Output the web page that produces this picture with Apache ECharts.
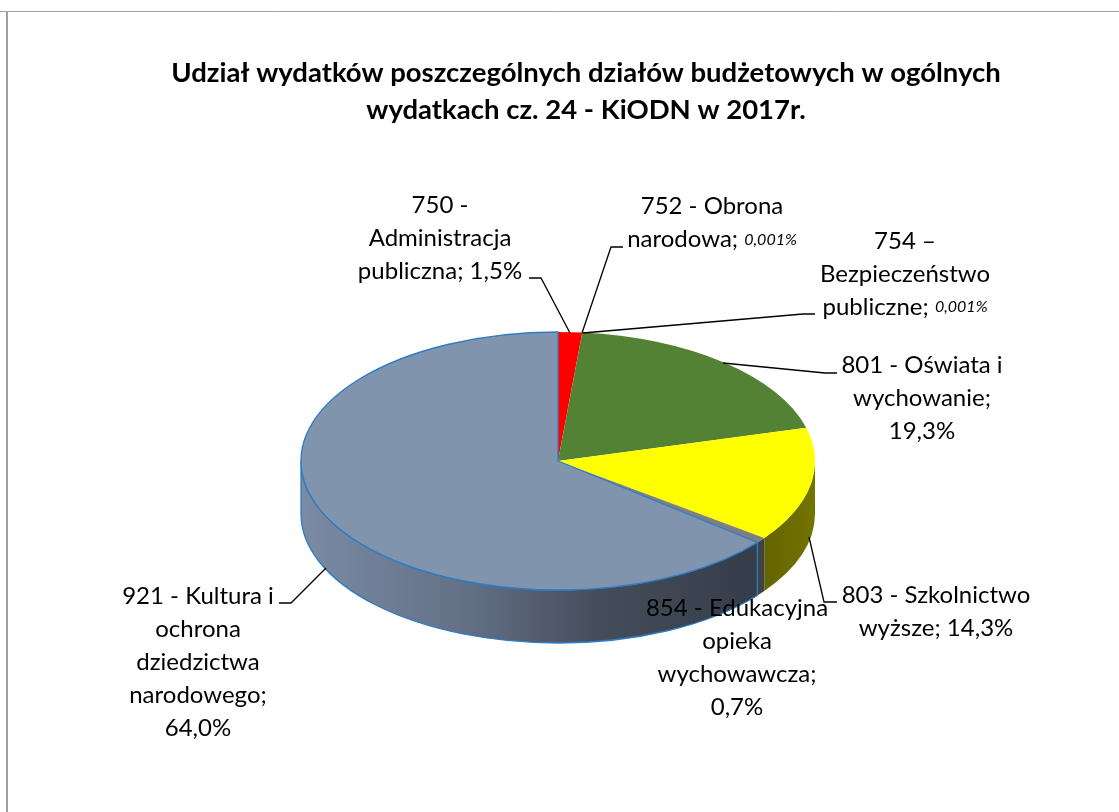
<!DOCTYPE html>
<html lang="pl">
<head>
    <meta charset="UTF-8">
    <title>Udział wydatków</title>
    <style>
        html, body { margin: 0; padding: 0; background: #fff; }
    </style>
    <script src="https://cdn.jsdelivr.net/npm/echarts@6/dist/echarts.min.js"></script>
</head>
<body>
<div id="pie" style="width: 1119px;height: 812px;"></div>
<script>
    // dane (udział w %)
    var categories = ['750', '752', '754', '801', '803', '854', '921'];
    var values = [1.5, 0.001, 0.001, 19.3, 14.3, 0.7, 64.0];
    var labelTexts = [
        '{n|750 -}\n{n|Administracja}\n{n|publiczna; 1,5%}',
        '{n|752 - Obrona}\n{n|narodowa; }{i|0,001%}',
        '{n|754 –}\n{n|Bezpieczeństwo}\n{n|publiczne; }{i|0,001%}',
        '{n|801 - Oświata i}\n{n|wychowanie;}\n{n|19,3%}',
        '{n|803 - Szkolnictwo}\n{n|wyższe; 14,3%}',
        '{n|854 - Edukacyjna}\n{n|opieka}\n{n|wychowawcza;}\n{n|0,7%}',
        '{n|921 - Kultura i}\n{n|ochrona}\n{n|dziedzictwa}\n{n|narodowego;}\n{n|64,0%}'
    ];
    var titleText = 'Udział wydatków poszczególnych działów budżetowych w ogólnych\nwydatkach cz. 24 - KiODN w 2017r.';

    // wygląd plasterków
    var topColors = ['#ff0000', '#ff0000', '#ff0000', '#548235', '#ffff00', '#7f7f7f', '#8094ad'];
    var wallColors = ['#800000', '#800000', '#800000', '#2a411a',
        {type: 'linear', x: 0, y: 0, x2: 1, y2: 0, colorStops: [{offset: 0, color: '#646400'}, {offset: 1, color: '#747400'}]},
        '#3f4247',
        {type: 'linear', x: 0, y: 0, x2: 1, y2: 0, colorStops: [
            {offset: 0, color: '#7a8ba4'}, {offset: 0.35, color: '#647187'},
            {offset: 0.65, color: '#454d5b'}, {offset: 1, color: '#343d49'}]}
    ];
    var strokeColors = [null, null, null, null, null, null, '#2e7cc4'];

    // pozycje etykiet i linii odniesienia
    var labelCenters = [[440, 238], [712, 223], [905, 274], [922, 398], [936, 612], [737, 658], [198, 662]];
    var leaderLines = [
        [[529, 278], [541, 278], [570, 333]],
        [[623, 247], [611, 247], [582, 333]],
        [[815, 314], [803, 314], [583, 333]],
        [[837, 373], [825, 373], [723, 363]],
        [[837, 602], [824, 602], [809, 537]],
        null,
        [[279, 603], [291, 603], [326, 568]]
    ];

    var cx = 558, cy = 461, rx = 257, ry = 129, depth = 53;

    function pt(deg, dy) {
        var a = deg * Math.PI / 180;
        return [cx + rx * Math.sin(a), cy - ry * Math.cos(a) + (dy || 0)];
    }

    function arcTo(p, large, sweep) {
        return 'A' + rx + ' ' + ry + ' 0 ' + (large ? 1 : 0) + ' ' + sweep + ' ' + p[0] + ' ' + p[1];
    }

    function topPath(a0, a1) {
        var p0 = pt(a0), p1 = pt(a1);
        return 'M' + cx + ' ' + cy + 'L' + p0[0] + ' ' + p0[1] + arcTo(p1, a1 - a0 > 180, 1) + 'Z';
    }

    // ściana boczna widoczna tylko między 90 a 270 stopni
    function wallPath(a0, a1) {
        var s = Math.max(a0, 90), e = Math.min(a1, 270);
        if (e <= s) return null;
        var p0 = pt(s), p1 = pt(e), q1 = pt(e, depth), q0 = pt(s, depth);
        return 'M' + p0[0] + ' ' + p0[1] + arcTo(p1, false, 1) +
            'L' + q1[0] + ' ' + q1[1] + arcTo(q0, false, 0) + 'Z';
    }

    var total = values.reduce(function (s, v) { return s + v; }, 0);

    function renderSlice(params, api) {
        var i = params.dataIndex, before = 0;
        for (var k = 0; k < i; k++) before += values[k];
        var a0 = before / total * 360;
        var a1 = (before + api.value(1)) / total * 360;
        var stroke = strokeColors[i];
        var children = [];
        var wall = wallPath(a0, a1);
        if (wall) {
            children.push({
                type: 'path',
                shape: {pathData: wall},
                style: {fill: wallColors[i], stroke: stroke, lineWidth: 1.3}
            });
        }
        children.push({
            type: 'path',
            z2: 2,
            shape: {pathData: topPath(a0, a1)},
            style: {fill: topColors[i], stroke: stroke, lineWidth: 1.3}
        });
        return {type: 'group', children: children};
    }

    function renderLabel(params, api) {
        var i = params.dataIndex, children = [];
        if (leaderLines[i]) {
            children.push({
                type: 'polyline',
                shape: {points: leaderLines[i]},
                style: {fill: null, stroke: '#000', lineWidth: 1.3}
            });
        }
        children.push({
            type: 'text',
            style: {
                x: labelCenters[i][0],
                y: labelCenters[i][1],
                text: labelTexts[i],
                align: 'center',
                verticalAlign: 'middle',
                rich: {
                    n: {fontFamily: 'Lato', fontSize: 24, lineHeight: 33, fill: '#000', align: 'center'},
                    i: {fontFamily: 'Lato', fontSize: 16, fontStyle: 'italic', lineHeight: 33, fill: '#000'}
                }
            }
        });
        return {type: 'group', children: children};
    }

    var rows = categories.map(function (c, i) { return [c, values[i]]; });

    var myEcharts = echarts.init(document.getElementById('pie'));
    var option = {
        animation: false,
        backgroundColor: '#fff',
        title: {
            text: titleText,
            left: 581,
            top: 50,
            textAlign: 'center',
            textStyle: {fontFamily: 'Lato', fontSize: 27.5, fontWeight: 'bold', color: '#000', lineHeight: 37}
        },
        graphic: [
            {type: 'line', shape: {x1: 0, y1: 11.5, x2: 1119, y2: 11.5}, style: {stroke: '#a0a0a0', lineWidth: 1}},
            {type: 'line', shape: {x1: 7, y1: 11, x2: 7, y2: 812}, style: {stroke: '#a0a0a0', lineWidth: 2}}
        ],
        series: [
            {type: 'custom', coordinateSystem: 'none', silent: true, renderItem: renderSlice, data: rows, z: 2},
            {type: 'custom', coordinateSystem: 'none', silent: true, renderItem: renderLabel, data: rows, z: 3}
        ]
    };
    myEcharts.setOption(option);
</script>
</body>
</html>
